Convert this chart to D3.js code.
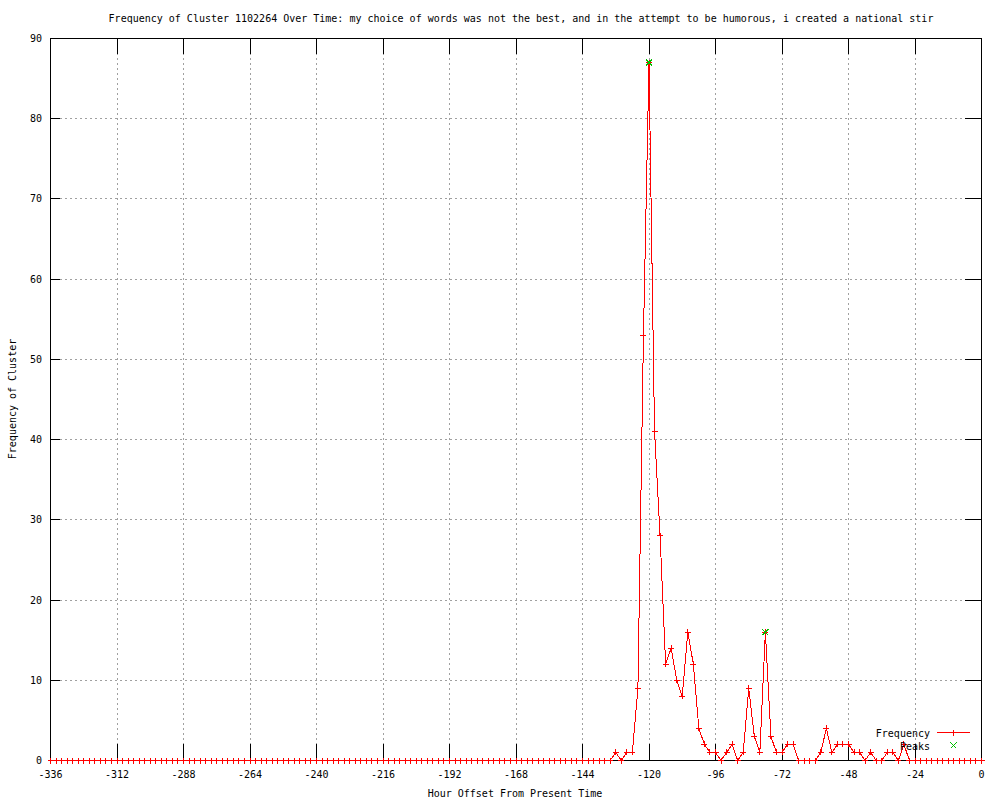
<!DOCTYPE html>
<html lang="en">
<head>
    <meta charset="UTF-8">
    <title>Frequency of Cluster 1102264 Over Time</title>
    <script src="https://cdnjs.cloudflare.com/ajax/libs/d3/7.8.5/d3.min.js"></script>
    <style>
        body { margin: 0; background: #fff; }
        svg text { font-family: "DejaVu Sans Mono", monospace; font-size: 10px; fill: #000; }
    </style>
</head>
<body>
    <svg id="chart" width="1000" height="800"></svg>

    <script>
        // hour offsets, one sample every 2 hours
        const hours = d3.range(-336, 1, 2);

        // frequency per sample
        const frequency = [
            0,0,0,0,0,0,0,0,0,0,0,0,0,0,0,0,0,
            0,0,0,0,0,0,0,0,0,0,0,0,0,0,0,0,0,
            0,0,0,0,0,0,0,0,0,0,0,0,0,0,0,0,0,
            0,0,0,0,0,0,0,0,0,0,0,0,0,0,0,0,0,
            0,0,0,0,0,0,0,0,0,0,0,0,0,0,0,0,0,
            0,0,0,0,0,0,0,0,0,0,0,0,0,0,0,0,0,
            1,0,1,1,9,53,87,41,28,12,14,10,8,16,12,4,2,1,1,0,
            1,2,0,1,9,3,1,16,3,1,1,2,2,0,0,0,0,1,4,1,
            2,2,2,1,1,0,1,0,0,1,1,0,2,
            0,0,0,0,0,0,0,0,0,0,0,0,0,0
        ];

        const peakHours = [-120, -78];
        const peakValues = [87, 16];

        const xTicks = [-336, -312, -288, -264, -240, -216, -192, -168, -144, -120, -96, -72, -48, -24, 0];
        const yTicks = [0, 10, 20, 30, 40, 50, 60, 70, 80, 90];

        const titleText = "Frequency of Cluster 1102264 Over Time: my choice of words was not the best, and in the attempt to be humorous, i created a national stir";

        const svg = d3.select("#chart");
        const pLeft = 50, pRight = 981, pTop = 38, pBottom = 760;

        const x = d3.scaleLinear().domain([-336, 0]).range([pLeft, pRight]);
        const y = d3.scaleLinear().domain([0, 90]).range([pBottom, pTop]);

        // grid
        const grid = svg.append("g")
            .attr("stroke", "#a0a0a0")
            .attr("stroke-dasharray", "2,3")
            .attr("shape-rendering", "crispEdges");
        grid.selectAll("line.gx")
            .data(xTicks.slice(1, -1))
            .enter().append("line")
            .attr("x1", d => x(d) + 0.5).attr("x2", d => x(d) + 0.5)
            .attr("y1", pTop).attr("y2", pBottom);
        grid.selectAll("line.gy")
            .data(yTicks.slice(1, -1))
            .enter().append("line")
            .attr("x1", pLeft).attr("x2", pRight)
            .attr("y1", d => y(d) + 0.5).attr("y2", d => y(d) + 0.5);

        // data line
        const data = hours.map((h, i) => ({ h: h, v: frequency[i] }));
        const line = d3.line().x(d => x(d.h) + 0.5).y(d => y(d.v) + 0.5);

        svg.append("path")
            .datum(data)
            .attr("d", line)
            .attr("fill", "none")
            .attr("stroke", "#ff0000")
            .attr("stroke-width", 1)
            .attr("shape-rendering", "crispEdges");

        const plus = (cx, cy, r) => `M${cx - r},${cy}H${cx + r}M${cx},${cy - r}V${cy + r}`;
        const cross = (cx, cy, r) => `M${cx - r},${cy - r}L${cx + r},${cy + r}M${cx - r},${cy + r}L${cx + r},${cy - r}`;

        // axis frame, ticks
        const axes = svg.append("g")
            .attr("stroke", "#000")
            .attr("shape-rendering", "crispEdges");
        axes.append("rect")
            .attr("x", pLeft + 0.5).attr("y", pTop + 0.5)
            .attr("width", pRight - pLeft).attr("height", pBottom - pTop)
            .attr("fill", "none");
        axes.selectAll("g.xt")
            .data(xTicks.slice(1, -1))
            .enter().append("g")
            .each(function (d) {
                const g = d3.select(this);
                g.append("line").attr("x1", x(d) + 0.5).attr("x2", x(d) + 0.5).attr("y1", pBottom).attr("y2", pBottom - 16);
                g.append("line").attr("x1", x(d) + 0.5).attr("x2", x(d) + 0.5).attr("y1", pTop).attr("y2", pTop + 16);
            });
        axes.selectAll("g.yt")
            .data(yTicks.slice(1, -1))
            .enter().append("g")
            .each(function (d) {
                const g = d3.select(this);
                g.append("line").attr("x1", pLeft).attr("x2", pLeft + 10).attr("y1", y(d) + 0.5).attr("y2", y(d) + 0.5);
                g.append("line").attr("x1", pRight).attr("x2", pRight - 16).attr("y1", y(d) + 0.5).attr("y2", y(d) + 0.5);
            });

        // point markers
        svg.append("g")
            .selectAll("path")
            .data(data)
            .enter().append("path")
            .attr("d", d => plus(x(d.h) + 0.5, y(d.v) + 0.5, 3))
            .attr("stroke", "#ff0000")
            .attr("shape-rendering", "crispEdges");

        svg.append("g")
            .selectAll("path")
            .data(peakHours)
            .enter().append("path")
            .attr("d", (d, i) => cross(x(d) + 0.5, y(peakValues[i]) + 0.5, 3))
            .attr("stroke", "#00c000")
            .attr("shape-rendering", "crispEdges");

        // tick labels
        svg.append("g")
            .selectAll("text")
            .data(xTicks)
            .enter().append("text")
            .attr("x", d => x(d) + 0.5)
            .attr("y", 778)
            .attr("text-anchor", "middle")
            .text(d => d);

        svg.append("g")
            .selectAll("text")
            .data(yTicks)
            .enter().append("text")
            .attr("x", 42)
            .attr("y", d => y(d) + 4)
            .attr("text-anchor", "end")
            .text(d => d);

        // titles
        svg.append("text")
            .attr("x", 521).attr("y", 22)
            .attr("text-anchor", "middle")
            .text(titleText);

        svg.append("text")
            .attr("x", 515).attr("y", 797)
            .attr("text-anchor", "middle")
            .text("Hour Offset From Present Time");

        svg.append("text")
            .attr("transform", "translate(16,399) rotate(-90)")
            .attr("text-anchor", "middle")
            .text("Frequency of Cluster");

        // legend
        const legend = svg.append("g");
        legend.append("text").attr("x", 930).attr("y", 737).attr("text-anchor", "end").text("Frequency");
        legend.append("line")
            .attr("x1", 937).attr("x2", 970).attr("y1", 732.5).attr("y2", 732.5)
            .attr("stroke", "#ff0000").attr("shape-rendering", "crispEdges");
        legend.append("path")
            .attr("d", plus(953.5, 732.5, 3))
            .attr("stroke", "#ff0000").attr("shape-rendering", "crispEdges");
        legend.append("text").attr("x", 930).attr("y", 750).attr("text-anchor", "end").text("Peaks");
        legend.append("path")
            .attr("d", cross(953.5, 745.5, 3))
            .attr("stroke", "#00c000").attr("shape-rendering", "crispEdges");
    </script>
</body>
</html>
